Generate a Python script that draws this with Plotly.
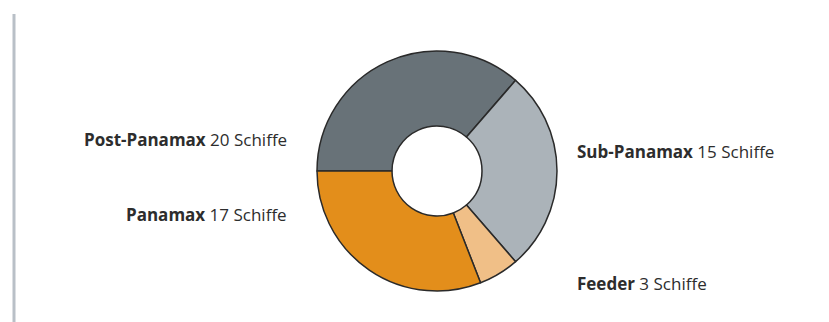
import plotly.graph_objects as go

categories = ["Post-Panamax", "Sub-Panamax", "Feeder", "Panamax"]
values = [20, 15, 3, 17]
colors = ["#687278", "#abb3b9", "#f0bf87", "#e38e1b"]
unit = "Schiffe"

W, H = 829, 322
cx, cy, r = 437, 171, 120

fig = go.Figure(go.Pie(
    labels=categories,
    values=values,
    hole=0.375,
    sort=False,
    direction="clockwise",
    rotation=-90,
    textinfo="none",
    hoverinfo="label+value",
    marker=dict(colors=colors, line=dict(color="#2a2a2a", width=1.5)),
    domain=dict(x=[(cx - r) / W, (cx + r) / W], y=[(H - cy - r) / H, (H - cy + r) / H]),
    showlegend=False,
))

# label placements (pixels): x anchor, y center, side
label_pos = {
    "Post-Panamax": (289, 139, "right"),
    "Sub-Panamax": (575, 151, "left"),
    "Feeder": (575, 283, "left"),
    "Panamax": (289, 214, "right"),
}
for name, val in zip(categories, values):
    x, y, anchor = label_pos[name]
    fig.add_annotation(
        x=x / W, y=(H - y) / H, xref="paper", yref="paper",
        text=f"<b>{name}</b> {val} {unit}",
        showarrow=False, xanchor=anchor, yanchor="middle",
        font=dict(family="Open Sans", size=17, color="#2d2d2d"),
    )

fig.add_shape(type="line", xref="paper", yref="paper",
              x0=14 / W, x1=14 / W, y0=0, y1=(H - 14) / H,
              line=dict(color="#b9c0c7", width=3))

fig.update_layout(
    width=W, height=H,
    margin=dict(l=0, r=0, t=0, b=0),
    paper_bgcolor="white", plot_bgcolor="white",
)
fig.write_html("out.html")
